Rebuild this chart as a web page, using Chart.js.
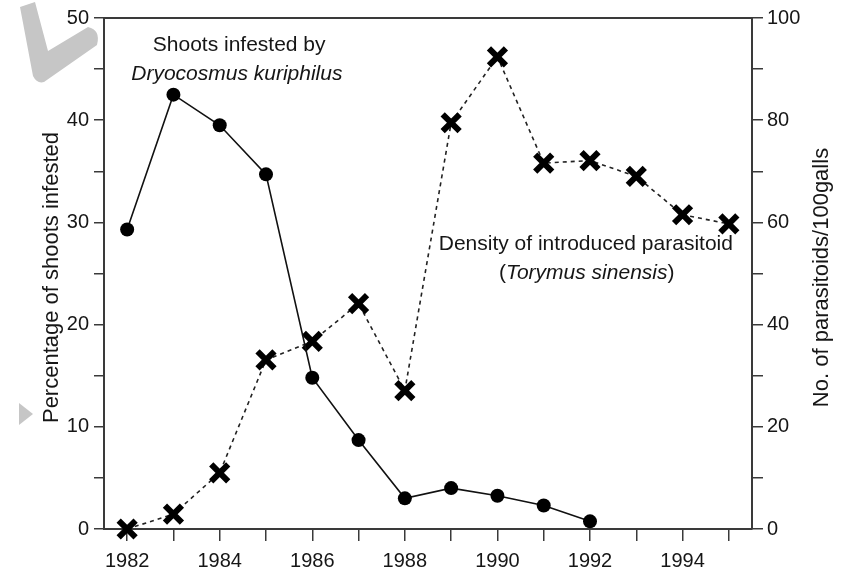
<!DOCTYPE html>
<html>
<head>
<meta charset="utf-8">
<script src="https://cdn.jsdelivr.net/npm/chart.js@4"></script>
<style>
  html, body { margin: 0; padding: 0; background: #fff; }
  #chart { display: block; }
</style>
</head>
<body>
<canvas id="chart" width="842" height="569" style="width:842px;height:569px"></canvas>
<script>
// data
const years = [1982, 1983, 1984, 1985, 1986, 1987, 1988, 1989, 1990, 1991, 1992, 1993, 1994, 1995];
const infestedYears = [1982, 1983, 1984, 1985, 1986, 1987, 1988, 1989, 1990, 1991, 1992];
const infested = [29.3, 42.5, 39.5, 34.7, 14.8, 8.7, 3.0, 4.0, 3.25, 2.3, 0.75];
const parasitoids = [0, 2.9, 11.0, 33.1, 36.7, 44.1, 27.1, 79.5, 92.4, 71.6, 72.1, 69.0, 61.5, 59.7];
const leftTicks = [0, 10, 20, 30, 40, 50];
const rightTicks = [0, 20, 40, 60, 80, 100];

const FONT = "'Liberation Sans', Arial, sans-serif";
const INK = "#161616";
const AXIS = "#3a3a3a";

// ---------------------- EXTRA DRAWING ------------------------
const extras = {
  id: "extras",
  beforeDraw(chart) {
    const ctx = chart.ctx;
    ctx.save();
    // grey watermark shapes in the scan
    ctx.fillStyle = "#c6c6c6";
    ctx.beginPath();
    ctx.moveTo(20, 7);
    ctx.lineTo(35, 2);
    ctx.lineTo(48, 51);
    ctx.lineTo(88, 27);
    ctx.quadraticCurveTo(101, 30, 97, 45);
    ctx.lineTo(44, 82);
    ctx.quadraticCurveTo(37, 84, 33, 76);
    ctx.closePath();
    ctx.fill();
    ctx.beginPath();
    ctx.moveTo(19, 403);
    ctx.lineTo(33, 414);
    ctx.lineTo(19, 425);
    ctx.closePath();
    ctx.fill();
    ctx.restore();
  },
  afterDraw(chart) {
    const ctx = chart.ctx;
    const a = chart.chartArea;
    const x = chart.scales.x;
    const y = chart.scales.y;
    ctx.save();
    // top frame line
    ctx.strokeStyle = AXIS;
    ctx.lineWidth = 2;
    ctx.beginPath();
    ctx.moveTo(a.left - 1, a.top);
    ctx.lineTo(a.right + 1, a.top);
    ctx.stroke();

    ctx.fillStyle = INK;
    ctx.textBaseline = "middle";
    ctx.textAlign = "center";

    // axis titles, both read bottom to top
    ctx.font = "22px " + FONT;
    const midY = (a.top + a.bottom) / 2 + 4;
    ctx.save();
    ctx.translate(52, midY);
    ctx.rotate(-Math.PI / 2);
    ctx.fillText("Percentage of shoots infested", 0, 0);
    ctx.restore();
    ctx.save();
    ctx.translate(822, midY);
    ctx.rotate(-Math.PI / 2);
    ctx.fillText("No. of parasitoids/100galls", 0, 0);
    ctx.restore();

    // series annotations
    ctx.font = "21px " + FONT;
    ctx.fillText("Shoots infested by", x.getPixelForValue(1984.42), y.getPixelForValue(47.3));
    ctx.font = "italic 21px " + FONT;
    ctx.fillText("Dryocosmus kuriphilus", x.getPixelForValue(1984.37), y.getPixelForValue(44.5));
    ctx.font = "21px " + FONT;
    ctx.fillText("Density of introduced parasitoid", x.getPixelForValue(1991.91), y.getPixelForValue(27.9));

    // "(Torymus sinensis)" with upright brackets
    const cx = x.getPixelForValue(1991.93);
    const cy = y.getPixelForValue(25.05);
    ctx.font = "21px " + FONT;
    const wb = ctx.measureText("(").width;
    ctx.font = "italic 21px " + FONT;
    const wi = ctx.measureText("Torymus sinensis").width;
    let sx = cx - (wi + 2 * wb) / 2;
    ctx.textAlign = "left";
    ctx.font = "21px " + FONT;
    ctx.fillText("(", sx, cy);
    ctx.font = "italic 21px " + FONT;
    ctx.fillText("Torymus sinensis", sx + wb, cy);
    ctx.font = "21px " + FONT;
    ctx.fillText(")", sx + wb + wi, cy);
    ctx.restore();
  },
};

// ---------------------- CHART ------------------------
const tickFont = { family: FONT, size: 20 };

new Chart(document.getElementById("chart").getContext("2d"), {
  type: "line",
  data: {
    datasets: [
      {
        label: "Shoots infested",
        data: infestedYears.map((yr, i) => ({ x: yr, y: infested[i] })),
        yAxisID: "y",
        borderColor: "#111",
        borderWidth: 1.6,
        pointStyle: "circle",
        pointRadius: 7,
        pointBackgroundColor: "#000",
        pointBorderWidth: 0,
        clip: false,
      },
      {
        label: "Parasitoid density",
        data: years.map((yr, i) => ({ x: yr, y: parasitoids[i] })),
        yAxisID: "y2",
        borderColor: "#222",
        borderWidth: 1.6,
        borderDash: [4, 4],
        pointStyle: "crossRot",
        pointRadius: 12,
        pointBorderWidth: 6,
        pointBorderColor: "#000",
        clip: false,
      },
    ],
  },
  options: {
    responsive: false,
    animation: false,
    layout: { padding: { top: 16, left: 0, right: 0, bottom: 0 } },
    plugins: { legend: { display: false }, tooltip: { enabled: false } },
    scales: {
      x: {
        type: "linear",
        position: "bottom",
        min: 1981.5,
        max: 1995.5,
        afterBuildTicks: (s) => { s.ticks = years.map((v) => ({ value: v })); },
        afterFit: (s) => { s.height = 40; },
        ticks: {
          autoSkip: false,
          maxRotation: 0,
          padding: 8,
          color: INK,
          font: tickFont,
          callback: (v) => (v % 2 === 0 ? String(v) : ""),
        },
        grid: { drawOnChartArea: false, drawTicks: true, tickLength: 12, color: AXIS, lineWidth: 1.5 },
        border: { display: true, color: AXIS, width: 2 },
      },
      y: {
        position: "left",
        min: 0,
        max: 50,
        afterBuildTicks: (s) => { s.ticks = [0, 5, 10, 15, 20, 25, 30, 35, 40, 45, 50].map((v) => ({ value: v })); },
        afterFit: (s) => { s.width = 104; },
        ticks: {
          padding: 5,
          color: INK,
          font: tickFont,
          callback: (v) => (leftTicks.includes(v) ? String(v) : ""),
        },
        grid: { drawOnChartArea: false, drawTicks: true, tickLength: 10, color: AXIS, lineWidth: 1.5 },
        border: { display: true, color: AXIS, width: 2 },
      },
      y2: {
        position: "right",
        min: 0,
        max: 100,
        afterBuildTicks: (s) => { s.ticks = [0, 10, 20, 30, 40, 50, 60, 70, 80, 90, 100].map((v) => ({ value: v })); },
        afterFit: (s) => { s.width = 90; },
        ticks: {
          padding: 4,
          color: INK,
          font: tickFont,
          callback: (v) => (rightTicks.includes(v) ? String(v) : ""),
        },
        grid: { drawOnChartArea: false, drawTicks: true, tickLength: 11, color: AXIS, lineWidth: 1.5 },
        border: { display: true, color: AXIS, width: 2 },
      },
    },
  },
  plugins: [extras],
});
</script>
</body>
</html>
